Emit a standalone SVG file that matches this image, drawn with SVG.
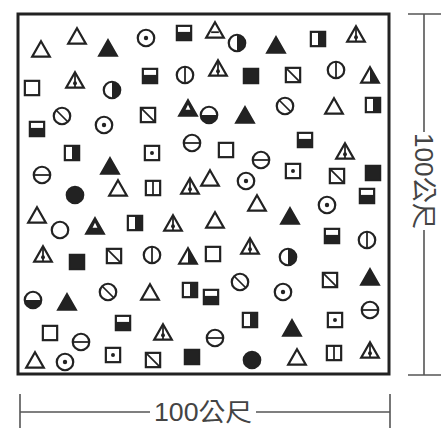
<svg xmlns="http://www.w3.org/2000/svg" xmlns:xlink="http://www.w3.org/1999/xlink" width="446" height="430" viewBox="0 0 446 430">
<style>
.o{fill:none;stroke:#222;stroke-width:2}
.f{fill:#222;stroke:#222;stroke-width:2}
.k{fill:#222}
.w{fill:#fff}
.l{stroke:#222;stroke-width:1.6;fill:none}
.dim{stroke:#555;stroke-width:1.6;fill:none}
.lbl{font-family:"Liberation Sans","Noto Sans CJK TC",sans-serif;font-size:25px;fill:#444}
</style>
<defs>
<g id="tri" transform="scale(1.1)"><path class="o" d="M0,-7 L8,7 L-8,7 Z"/></g>
<g id="triF" transform="scale(1.1)"><path class="f" d="M0,-7 L8,7 L-8,7 Z"/></g>
<g id="triL" transform="scale(1.1)"><path class="o" d="M0,-7 L8,7 L-8,7 Z"/><path class="l" d="M0,-6 V7"/><circle class="k" cx="0" cy="3" r="1.8"/></g>
<g id="triA" transform="scale(1.1)"><path class="o" d="M0,-7 L8,7 L-8,7 Z"/><path class="l" d="M-3.5,2 H3.5"/></g>
<g id="triH" transform="scale(1.1)"><path class="o" d="M0,-7 L8,7 L-8,7 Z"/><path class="k" d="M0,-7 L8,7 L0,7 Z"/></g>
<g id="triW" transform="scale(1.1)"><path class="f" d="M0,-7 L8,7 L-8,7 Z"/><path class="w" d="M0,-3 L2.2,1.5 L-2.2,1.5 Z"/></g>
<g id="circ" transform="scale(1.1)"><circle class="o" r="7.5"/></g>
<g id="circD" transform="scale(1.1)"><circle class="o" r="7.5"/><circle class="k" r="2"/></g>
<g id="circH" transform="scale(1.1)"><circle class="o" r="7.5"/><path class="l" d="M-7.5,0 H7.5"/></g>
<g id="circV" transform="scale(1.1)"><circle class="o" r="7.5"/><path class="l" d="M0,-7.5 V7.5"/></g>
<g id="circS" transform="scale(1.1)"><circle class="o" r="7.5"/><path class="l" d="M-5,-5 L5,5"/></g>
<g id="circR" transform="scale(1.1)"><circle class="o" r="7.5"/><path class="k" d="M0,-7.5 A7.5,7.5 0 0 1 0,7.5 Z"/></g>
<g id="circB" transform="scale(1.1)"><circle class="o" r="7.5"/><path class="k" d="M-7.5,0 A7.5,7.5 0 0 0 7.5,0 Z"/></g>
<g id="circF" transform="scale(1.1)"><circle class="f" r="7.5"/></g>
<g id="sq" transform="scale(1.1)"><rect class="o" x="-6.5" y="-6.5" width="13" height="13"/></g>
<g id="sqF" transform="scale(1.1)"><rect class="f" x="-6.5" y="-6.5" width="13" height="13"/></g>
<g id="sqD" transform="scale(1.1)"><rect class="o" x="-6.5" y="-6.5" width="13" height="13"/><circle class="k" r="1.8"/></g>
<g id="sqX" transform="scale(1.1)"><rect class="o" x="-6.5" y="-6.5" width="13" height="13"/><path class="l" d="M-6,-6 L6,6"/></g>
<g id="sqB" transform="scale(1.1)"><rect class="o" x="-6.5" y="-6.5" width="13" height="13"/><rect class="k" x="-6.5" y="-1" width="13" height="7.5"/></g>
<g id="sqR" transform="scale(1.1)"><rect class="o" x="-6.5" y="-6.5" width="13" height="13"/><rect class="k" x="0" y="-6.5" width="6.5" height="13"/></g>
<g id="sqII" transform="scale(1.1)"><rect class="o" x="-6.5" y="-6.5" width="13" height="13"/><path class="l" d="M0,-6.5 V6.5"/></g>
</defs>
<rect x="0" y="0" width="446" height="430" fill="#fff"/>
<rect x="18" y="14" width="371" height="360" fill="none" stroke="#222" stroke-width="3"/>
<g id="symbols">
<use href="#tri" x="41" y="49"/>
<use href="#tri" x="77" y="36"/>
<use href="#triF" x="108" y="48"/>
<use href="#circD" x="146" y="38"/>
<use href="#sqB" x="184" y="33"/>
<use href="#triA" x="215" y="30"/>
<use href="#circR" x="237" y="43"/>
<use href="#triF" x="276" y="45"/>
<use href="#sqR" x="318" y="39"/>
<use href="#triL" x="356" y="34"/>
<use href="#sq" x="32" y="88"/>
<use href="#triL" x="75" y="80"/>
<use href="#circR" x="112" y="90"/>
<use href="#sqB" x="150" y="76"/>
<use href="#circV" x="185" y="75"/>
<use href="#triL" x="218" y="68"/>
<use href="#sqF" x="251" y="76"/>
<use href="#sqX" x="293" y="75"/>
<use href="#circV" x="336" y="70"/>
<use href="#triH" x="370" y="75"/>
<use href="#sqB" x="37" y="129"/>
<use href="#circS" x="62" y="116"/>
<use href="#circD" x="104" y="125"/>
<use href="#sqX" x="148" y="115"/>
<use href="#triW" x="188" y="108"/>
<use href="#circB" x="209" y="115"/>
<use href="#triF" x="245" y="115"/>
<use href="#circS" x="285" y="106"/>
<use href="#tri" x="334" y="106"/>
<use href="#sqR" x="373" y="105"/>
<use href="#sqR" x="72" y="153"/>
<use href="#sqD" x="152" y="153"/>
<use href="#circH" x="192" y="143"/>
<use href="#sq" x="226" y="150"/>
<use href="#circH" x="261" y="160"/>
<use href="#sqB" x="305" y="140"/>
<use href="#triL" x="345" y="151"/>
<use href="#circH" x="42" y="175"/>
<use href="#triF" x="110" y="166"/>
<use href="#tri" x="118" y="188"/>
<use href="#circF" x="75" y="195"/>
<use href="#sqII" x="153" y="188"/>
<use href="#triL" x="190" y="186"/>
<use href="#tri" x="210" y="178"/>
<use href="#circD" x="246" y="181"/>
<use href="#sqD" x="293" y="171"/>
<use href="#sqX" x="337" y="176"/>
<use href="#sqF" x="373" y="173"/>
<use href="#sqB" x="367" y="196"/>
<use href="#circD" x="327" y="205"/>
<use href="#tri" x="257" y="203"/>
<use href="#tri" x="37" y="215"/>
<use href="#circ" x="60" y="230"/>
<use href="#triW" x="95" y="226"/>
<use href="#sqR" x="135" y="223"/>
<use href="#triL" x="173" y="223"/>
<use href="#tri" x="215" y="220"/>
<use href="#triF" x="290" y="216"/>
<use href="#triL" x="43" y="254"/>
<use href="#sqF" x="77" y="262"/>
<use href="#sqX" x="114" y="256"/>
<use href="#circV" x="152" y="255"/>
<use href="#triH" x="188" y="256"/>
<use href="#sq" x="213" y="254"/>
<use href="#triL" x="250" y="246"/>
<use href="#circR" x="288" y="257"/>
<use href="#sqB" x="332" y="236"/>
<use href="#circV" x="367" y="240"/>
<use href="#circB" x="33" y="300"/>
<use href="#triF" x="67" y="302"/>
<use href="#circS" x="108" y="292"/>
<use href="#tri" x="150" y="292"/>
<use href="#sqR" x="190" y="290"/>
<use href="#sqB" x="211" y="297"/>
<use href="#circS" x="240" y="282"/>
<use href="#circD" x="283" y="292"/>
<use href="#sqX" x="330" y="280"/>
<use href="#triF" x="370" y="277"/>
<use href="#sq" x="50" y="333"/>
<use href="#circH" x="81" y="342"/>
<use href="#sqB" x="123" y="323"/>
<use href="#triL" x="163" y="332"/>
<use href="#circH" x="215" y="338"/>
<use href="#sqR" x="250" y="320"/>
<use href="#triF" x="292" y="328"/>
<use href="#sqD" x="335" y="320"/>
<use href="#circH" x="370" y="310"/>
<use href="#tri" x="35" y="360"/>
<use href="#circD" x="65" y="362"/>
<use href="#sqD" x="113" y="355"/>
<use href="#sqX" x="153" y="360"/>
<use href="#sqF" x="192" y="357"/>
<use href="#circF" x="252" y="360"/>
<use href="#tri" x="297" y="357"/>
<use href="#sqII" x="334" y="353"/>
<use href="#triL" x="370" y="350"/>
</g>
<g id="dimensions">
<path class="dim" d="M408,14 H441 M424,14 V132 M424,230 V375 M408,375 H441"/>
<path class="dim" d="M20,394 V428 M20,412 H150 M256,412 H390 M390,394 V428"/>
<text class="lbl" x="203" y="421" text-anchor="middle" textLength="98" lengthAdjust="spacingAndGlyphs">100公尺</text>
<text class="lbl" transform="translate(424,181) rotate(90)" x="0" y="9" text-anchor="middle" textLength="96" lengthAdjust="spacingAndGlyphs">100公尺</text>
</g>
</svg>
